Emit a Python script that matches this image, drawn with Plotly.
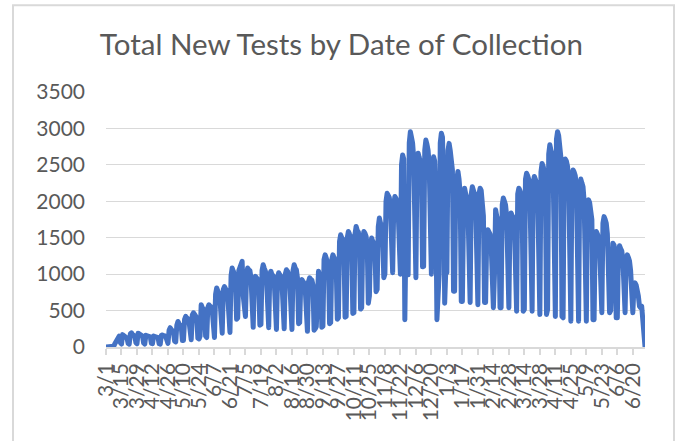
import pandas as pd
import plotly.graph_objects as go

# Daily new tests, one row per week (Sun..Sat)
tests_mar_jun_2020 = [
    0, 1, 3, 5, 8, 12, 6,
    10, 45, 80, 110, 140, 150, 60,
    40, 170, 160, 150, 140, 120, 50,
    40, 180, 195, 170, 160, 150, 60,
    45, 190, 175, 165, 160, 150, 55,
    40, 160, 155, 150, 145, 140, 50,
    45, 150, 145, 140, 150, 130, 45,
    40, 160, 165, 150, 155, 140, 60,
    50, 230, 265, 240, 220, 200, 80,
    70, 300, 350, 320, 310, 280, 90,
    90, 380, 420, 400, 390, 350, 110,
    100, 440, 470, 450, 430, 400, 120,
    110, 150, 580, 540, 520, 480, 150,
    130, 540, 580, 560, 550, 500, 140,
    130, 720, 810, 770, 740, 650, 200,
    190, 790, 830, 800, 780, 700, 210,
    200, 980, 1085, 1040, 1000, 900, 380,
    400, 1050, 1100, 1120, 1175, 700, 420,
]
tests_jul_sep_2020 = [
    420, 1000, 1085, 1060, 1050, 950, 290,
    270, 900, 970, 950, 930, 850, 300,
    310, 1050, 1130, 1080, 1040, 950, 280,
    265, 1000, 1040, 990, 980, 900, 250,
    240, 950, 1020, 990, 970, 880, 260,
    250, 1000, 1060, 1040, 1000, 900, 240,
    240, 1050, 1130, 1080, 1060, 950, 320,
    335, 880, 925, 900, 880, 800, 230,
    215, 900, 950, 930, 920, 850, 230,
    250, 280, 1000, 1040, 980, 950, 270,
    285, 1200, 1265, 1220, 1180, 1100, 320,
    335, 1200, 1265, 1230, 1200, 1100, 380,
    400, 1450, 1540, 1500, 1480, 1350, 410,
]
tests_oct_dec_2020 = [
    420, 1500, 1585, 1550, 1520, 1400, 460,
    470, 1550, 1655, 1600, 1580, 1450, 520,
    540, 1500, 1585, 1560, 1520, 1400, 600,
    700, 1400, 1495, 1450, 1430, 1300, 760,
    790, 1650, 1770, 1700, 1680, 1500, 950,
    1000, 2000, 2110, 2080, 2050, 1900, 1020,
    1020, 1950, 2065, 2040, 2000, 1850, 1000,
    1000, 2500, 2635, 2580, 375, 1500, 990,
    990, 2800, 2955, 2880, 2800, 2600, 950,
    950, 2550, 2660, 2600, 2550, 2400, 1100,
    1105, 2700, 2840, 2780, 2700, 2500, 1050,
    1000, 2500, 2610, 2550, 2000, 375, 900,
    1000, 2800, 2935, 2880, 2300, 600, 1050,
]
tests_jan_mar_2021 = [
    1020, 2700, 2795, 2700, 2600, 2430, 765,
    765, 2200, 2270, 2410, 2300, 2100, 625,
    625, 1800, 2180, 2100, 2050, 1900, 610,
    610, 2100, 2200, 2150, 2100, 1950, 580,
    580, 2100, 2180, 2150, 2000, 1800, 610,
    610, 1500, 1610, 1580, 1550, 1400, 540,
    540, 1000, 1885, 1800, 1750, 1600, 540,
    540, 1950, 2045, 2000, 1950, 1800, 540,
    540, 1750, 1840, 1800, 1780, 1650, 490,
    490, 2100, 2180, 2150, 2100, 1950, 490,
    515, 2300, 2385, 2350, 2300, 2100, 515,
    490, 2250, 2340, 2300, 2250, 2100, 490,
    445, 2400, 2520, 2480, 2400, 2200, 445,
]
tests_apr_jul_2021 = [
    515, 2650, 2775, 2700, 2650, 2400, 515,
    420, 2850, 2955, 2900, 2800, 2600, 420,
    400, 2500, 2580, 2550, 2480, 2300, 400,
    355, 2350, 2430, 2400, 2350, 2200, 355,
    355, 2200, 2305, 2250, 2200, 2000, 355,
    355, 1950, 2020, 1980, 1900, 1750, 375,
    375, 1500, 1585, 1550, 1500, 1350, 470,
    470, 1700, 1790, 1750, 1700, 1550, 470,
    470, 500, 1380, 1425, 1400, 1300, 400,
    400, 1300, 1390, 1350, 1320, 1200, 470,
    470, 1200, 1265, 1230, 1180, 1050, 470,
    470, 820, 880, 850, 800, 700, 560,
    540, 560, 300, 40, 5,
]

tests = (tests_mar_jun_2020 + tests_jul_sep_2020 + tests_oct_dec_2020
         + tests_jan_mar_2021 + tests_apr_jul_2021)
dates = pd.date_range("2020-03-01", periods=len(tests), freq="D")

# Excel-style labels every 14th day
tick_dates = dates[::14]
tick_text = [f"{d.month}/{d.day}" for d in tick_dates]

FONT = "Lato, 'Open Sans', sans-serif"
GREY = "#595959"
GRID = "#D9D9D9"

fig = go.Figure()
fig.add_trace(go.Scatter(
    x=dates, y=tests, mode="lines",
    line=dict(color="#4472C4", width=5),
    showlegend=False,
))

fig.update_layout(
    width=680, height=441,
    margin=dict(l=106, r=35, t=92, b=93.5),
    paper_bgcolor="white", plot_bgcolor="white",
    font=dict(family=FONT, color=GREY),
    title=dict(
        text="Total New Tests by Date of Collection",
        font=dict(size=29.5, color=GREY, family=FONT),
        x=0.502, xref="container", xanchor="center",
        y=0.898, yref="container", yanchor="middle",
    ),
    # light grey chart frame
    shapes=[dict(
        type="rect", xref="paper", yref="paper",
        x0=-0.1725, x1=1.0538, y0=-0.4, y1=1.3405,
        line=dict(color=GRID, width=2), layer="above",
    )],
)

fig.update_xaxes(
    range=[dates[0], dates[-1]], automargin=False,
    tickmode="array", tickvals=tick_dates, ticktext=tick_text,
    tickangle=-90, tickfont=dict(size=21, color=GREY),
    showgrid=False, showline=True, linecolor=GRID, linewidth=1.5,
    ticks="outside", ticklen=6, tickcolor=GRID, tickwidth=1.5,
)
fig.update_yaxes(
    range=[0, 3500], dtick=500, automargin=False,
    tickfont=dict(size=21, color=GREY),
    showgrid=True, gridcolor=GRID, gridwidth=1.3,
    zeroline=False, ticklabelstandoff=20,
)

# no page margin, and round joins like the Excel line
page_fix = """
document.body.style.margin = '0';
document.querySelectorAll('.scatterlayer .js-line').forEach(function(p) {
    p.style.strokeLinejoin = 'round';
    p.style.strokeLinecap = 'round';
});
"""

fig.write_html("out.html", post_script=page_fix,
               config={"displayModeBar": False})
